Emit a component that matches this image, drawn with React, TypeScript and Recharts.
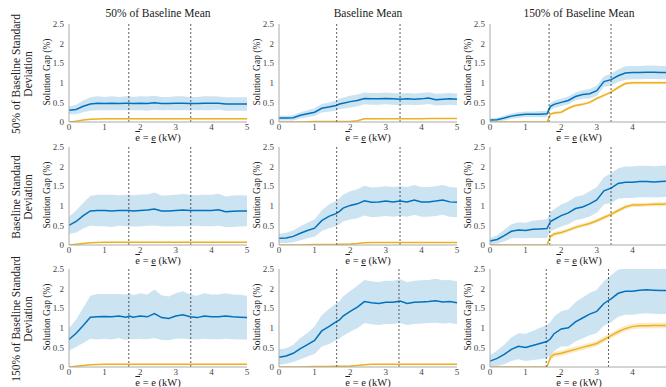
import React from "react";
import {
  ComposedChart,
  Area,
  Line,
  XAxis,
  YAxis,
  ReferenceLine,
} from "recharts";

// shared x grid (kW)
const xs = [0, 0.2, 0.4, 0.6, 0.8, 1, 1.2, 1.4, 1.6, 1.7, 1.8, 2, 2.2, 2.4, 2.6, 2.8, 3, 3.2, 3.4, 3.6, 3.8, 4, 4.2, 4.4, 4.6, 4.8, 5];

const colTitles = ["50% of Baseline Mean", "Baseline Mean", "150% of Baseline Mean"];
const rowTitles = [
  ["50% of Baseline Standard", "Deviation"],
  ["Baseline Standard", "Deviation"],
  ["150% of Baseline Standard", "Deviation"],
];
const yTicks = [0, 0.5, 1, 1.5, 2, 2.5];
const xTicks = [0, 1, 2, 3, 4, 5];
// last column is cut at the page edge, its "5" is not shown
const xTicksLastCol = [0, 1, 2, 3, 4];

// row 1 (50% std)
const blue11 = [0.3, 0.32, 0.4, 0.46, 0.48, 0.47, 0.48, 0.47, 0.48, 0.48, 0.47, 0.48, 0.47, 0.49, 0.47, 0.47, 0.48, 0.48, 0.47, 0.47, 0.48, 0.48, 0.48, 0.46, 0.46, 0.46, 0.46];
const band11 = [0.1, 0.12, 0.15, 0.17, 0.18, 0.17, 0.18, 0.17, 0.18, 0.18, 0.17, 0.18, 0.18, 0.18, 0.17, 0.17, 0.18, 0.18, 0.17, 0.17, 0.18, 0.18, 0.17, 0.17, 0.17, 0.17, 0.17];
const orange11 = [0, 0.02, 0.05, 0.07, 0.075, 0.08, 0.08, 0.08, 0.08, 0.08, 0.08, 0.08, 0.08, 0.08, 0.08, 0.08, 0.08, 0.08, 0.08, 0.08, 0.08, 0.08, 0.08, 0.08, 0.08, 0.08, 0.08];

const blue12 = [0.1, 0.1, 0.11, 0.17, 0.21, 0.25, 0.35, 0.38, 0.42, 0.46, 0.48, 0.52, 0.55, 0.6, 0.59, 0.59, 0.6, 0.59, 0.58, 0.59, 0.58, 0.59, 0.61, 0.57, 0.58, 0.59, 0.58];
const band12 = [0.06, 0.06, 0.07, 0.08, 0.09, 0.1, 0.11, 0.12, 0.13, 0.13, 0.14, 0.15, 0.15, 0.15, 0.15, 0.15, 0.15, 0.15, 0.15, 0.15, 0.15, 0.15, 0.15, 0.15, 0.15, 0.15, 0.15];
const orange12 = [0, 0, 0, 0, 0.005, 0.01, 0.01, 0.01, 0.01, 0.01, 0.01, 0.015, 0.03, 0.08, 0.08, 0.08, 0.085, 0.085, 0.085, 0.085, 0.085, 0.085, 0.09, 0.09, 0.09, 0.09, 0.09];

const blue13 = [0.05, 0.06, 0.1, 0.15, 0.18, 0.2, 0.2, 0.2, 0.21, 0.4, 0.45, 0.5, 0.55, 0.65, 0.7, 0.72, 0.8, 1.03, 1.08, 1.18, 1.25, 1.26, 1.26, 1.27, 1.27, 1.26, 1.26];
const band13 = [0.04, 0.05, 0.06, 0.07, 0.07, 0.07, 0.07, 0.08, 0.08, 0.09, 0.09, 0.09, 0.1, 0.1, 0.11, 0.12, 0.13, 0.14, 0.15, 0.16, 0.17, 0.17, 0.17, 0.17, 0.17, 0.17, 0.17];
const orange13 = [0, 0, 0, 0, 0, 0, 0, 0, 0, 0.2, 0.23, 0.25, 0.35, 0.42, 0.45, 0.5, 0.6, 0.68, 0.76, 0.88, 0.98, 1.0, 1.0, 1.0, 1.0, 1.0, 1.0];

// row 2 (baseline std)
const blue21 = [0.5, 0.6, 0.75, 0.87, 0.88, 0.88, 0.87, 0.88, 0.88, 0.88, 0.87, 0.88, 0.89, 0.92, 0.87, 0.87, 0.88, 0.89, 0.88, 0.88, 0.88, 0.88, 0.9, 0.85, 0.86, 0.87, 0.87];
const band21 = [0.22, 0.28, 0.33, 0.38, 0.4, 0.4, 0.41, 0.39, 0.4, 0.4, 0.4, 0.41, 0.4, 0.42, 0.39, 0.4, 0.4, 0.41, 0.4, 0.39, 0.4, 0.4, 0.41, 0.39, 0.4, 0.4, 0.39];
const orange21 = [0, 0.02, 0.04, 0.06, 0.065, 0.07, 0.07, 0.07, 0.07, 0.07, 0.07, 0.07, 0.07, 0.07, 0.07, 0.07, 0.07, 0.07, 0.07, 0.07, 0.07, 0.07, 0.07, 0.07, 0.07, 0.07, 0.07];

const blue22 = [0.17, 0.18, 0.22, 0.3, 0.37, 0.43, 0.62, 0.73, 0.8, 0.86, 0.94, 1.01, 1.05, 1.13, 1.09, 1.1, 1.12, 1.1, 1.12, 1.1, 1.15, 1.1, 1.1, 1.12, 1.15, 1.1, 1.09];
const band22 = [0.12, 0.13, 0.15, 0.18, 0.2, 0.22, 0.26, 0.3, 0.32, 0.33, 0.34, 0.36, 0.37, 0.38, 0.38, 0.38, 0.38, 0.38, 0.38, 0.38, 0.38, 0.38, 0.38, 0.38, 0.38, 0.38, 0.38];
const orange22 = [0, 0, 0, 0, 0.005, 0.01, 0.01, 0.015, 0.015, 0.02, 0.02, 0.025, 0.04, 0.06, 0.065, 0.065, 0.065, 0.065, 0.065, 0.065, 0.065, 0.065, 0.065, 0.065, 0.065, 0.065, 0.065];

const blue23 = [0.1, 0.14, 0.24, 0.35, 0.38, 0.37, 0.4, 0.41, 0.42, 0.6, 0.65, 0.75, 0.82, 0.93, 0.97, 1.05, 1.15, 1.38, 1.45, 1.57, 1.6, 1.6, 1.62, 1.62, 1.61, 1.62, 1.63];
const band23 = [0.08, 0.11, 0.15, 0.18, 0.2, 0.2, 0.22, 0.23, 0.24, 0.25, 0.26, 0.28, 0.29, 0.3, 0.3, 0.32, 0.33, 0.35, 0.38, 0.39, 0.4, 0.4, 0.4, 0.4, 0.4, 0.4, 0.4];
const orange23 = [0, 0, 0, 0, 0, 0, 0, 0, 0, 0.22, 0.28, 0.32, 0.38, 0.45, 0.5, 0.55, 0.62, 0.7, 0.78, 0.88, 0.97, 1.02, 1.02, 1.03, 1.04, 1.04, 1.05];

// row 3 (150% std)
const blue31 = [0.7, 0.86, 1.06, 1.27, 1.28, 1.29, 1.28, 1.3, 1.27, 1.3, 1.27, 1.3, 1.28, 1.36, 1.26, 1.24, 1.3, 1.33, 1.28, 1.26, 1.3, 1.28, 1.28, 1.3, 1.28, 1.27, 1.26];
const band31 = [0.28, 0.35, 0.45, 0.55, 0.58, 0.57, 0.58, 0.56, 0.58, 0.58, 0.56, 0.58, 0.57, 0.62, 0.57, 0.56, 0.58, 0.6, 0.57, 0.56, 0.58, 0.57, 0.57, 0.58, 0.57, 0.57, 0.56];
const orange31 = [0, 0.02, 0.04, 0.06, 0.065, 0.07, 0.07, 0.07, 0.07, 0.07, 0.07, 0.07, 0.07, 0.07, 0.07, 0.07, 0.07, 0.07, 0.07, 0.07, 0.07, 0.07, 0.07, 0.07, 0.07, 0.07, 0.07];

const blue32 = [0.25, 0.28, 0.35, 0.47, 0.57, 0.68, 0.92, 1.03, 1.15, 1.2, 1.3, 1.42, 1.53, 1.67, 1.64, 1.62, 1.65, 1.65, 1.68, 1.62, 1.65, 1.66, 1.67, 1.69, 1.66, 1.67, 1.64];
const band32 = [0.2, 0.2, 0.22, 0.27, 0.3, 0.35, 0.4, 0.45, 0.47, 0.48, 0.5, 0.52, 0.54, 0.55, 0.55, 0.55, 0.55, 0.55, 0.56, 0.55, 0.55, 0.55, 0.55, 0.56, 0.55, 0.55, 0.55];
const orange32 = [0, 0, 0, 0, 0.005, 0.01, 0.01, 0.015, 0.02, 0.02, 0.02, 0.025, 0.04, 0.06, 0.07, 0.07, 0.07, 0.07, 0.07, 0.07, 0.07, 0.07, 0.07, 0.07, 0.07, 0.07, 0.07];

const blue33 = [0.15, 0.22, 0.32, 0.45, 0.53, 0.5, 0.55, 0.6, 0.65, 0.72, 0.85, 0.97, 1.0, 1.15, 1.25, 1.35, 1.42, 1.62, 1.74, 1.88, 1.93, 1.93, 1.96, 1.97, 1.96, 1.95, 1.95];
const band33 = [0.15, 0.2, 0.25, 0.3, 0.33, 0.35, 0.37, 0.4, 0.42, 0.43, 0.44, 0.45, 0.47, 0.5, 0.52, 0.54, 0.55, 0.57, 0.6, 0.6, 0.6, 0.6, 0.6, 0.6, 0.6, 0.6, 0.6];
const orange33 = [0, 0, 0, 0, 0, 0, 0, 0, 0, 0.25, 0.32, 0.35, 0.4, 0.45, 0.5, 0.55, 0.6, 0.7, 0.8, 0.9, 0.98, 1.03, 1.05, 1.05, 1.06, 1.06, 1.06];

// orange band half-widths per panel (row-major)
const orangeSpread = [0.01, 0.01, 0.035, 0.01, 0.01, 0.05, 0.01, 0.015, 0.07];
// dashed reference lines per panel (row-major)
const vLines = [
  [1.68, 3.42], [1.62, 3.4], [1.66, 3.4],
  [1.68, 3.42], [1.62, 3.4], [1.68, 3.4],
  [1.68, 3.42], [1.62, 3.37], [1.58, 3.33],
];

const blues = [blue11, blue12, blue13, blue21, blue22, blue23, blue31, blue32, blue33];
const bands = [band11, band12, band13, band21, band22, band23, band31, band32, band33];
const oranges = [orange11, orange12, orange13, orange21, orange22, orange23, orange31, orange32, orange33];

const FONT = "'Liberation Serif', 'Times New Roman', serif";
const BLUE = "#0072BD";
const ORANGE = "#EDB120";
const PLOT_W = 178;
const PLOT_H = 98;
const colLeft = [69, 279, 490];
const rowTop = [24, 147, 269];
const Y_AXIS_W = 30;

const buildData = (i: number) =>
  xs.map((x, k) => {
    const b = blues[i][k];
    const hw = bands[i][k];
    const o = oranges[i][k];
    const s = orangeSpread[i];
    return {
      x,
      blue: b,
      blueBand: [Math.max(0, b - hw), b + hw],
      orange: o,
      orangeBand: o > 0 ? [Math.max(0, o - s), o + s] : [0, 0],
    };
  });

const tickStyle = { fontSize: 9, fill: "#444", fontFamily: FONT };

const Panel = ({ i }: { i: number }) => {
  const r = Math.floor(i / 3);
  const c = i % 3;
  const data = buildData(i);
  return (
    <div
      style={{
        position: "absolute",
        left: colLeft[c] - Y_AXIS_W,
        top: rowTop[r] - 5,
      }}
    >
      <ComposedChart
        width={Y_AXIS_W + PLOT_W + 5}
        height={PLOT_H + 25}
        data={data}
        margin={{ top: 5, right: 5, bottom: 0, left: 0 }}
      >
        <XAxis
          dataKey="x"
          type="number"
          domain={[0, 5]}
          ticks={c === 2 ? xTicksLastCol : xTicks}
          tick={tickStyle}
          tickLine={false}
          tickSize={0}
          stroke="#aaa"
          height={20}
          interval={0}
        />
        <XAxis xAxisId="top" orientation="top" dataKey="x" type="number" domain={[0, 5]} tick={false} tickLine={false} height={0} stroke="#ccc" />
        <YAxis
          type="number"
          domain={[0, 2.5]}
          ticks={yTicks}
          tick={tickStyle}
          tickLine={false}
          tickSize={3}
          stroke="#aaa"
          width={Y_AXIS_W}
          allowDataOverflow
          interval={0}
        />
        <YAxis yAxisId="right" orientation="right" domain={[0, 2.5]} tick={false} tickLine={false} width={0} stroke="#ccc" />
        <Area
          dataKey="blueBand"
          type="linear"
          stroke="none"
          fill={BLUE}
          fillOpacity={0.2}
          isAnimationActive={false}
        />
        <Area
          dataKey="orangeBand"
          type="linear"
          stroke="none"
          fill={ORANGE}
          fillOpacity={0.25}
          isAnimationActive={false}
        />
        <Line dataKey="orange" type="linear" stroke={ORANGE} strokeWidth={1.5} dot={false} isAnimationActive={false} />
        <Line dataKey="blue" type="linear" stroke={BLUE} strokeWidth={1.5} dot={false} isAnimationActive={false} />
        {vLines[i].map((v) => (
          <ReferenceLine key={v} x={v} stroke="#333" strokeWidth={0.8} strokeDasharray="2 2" />
        ))}
      </ComposedChart>
    </div>
  );
};

const rotated = (cx: number, cy: number, size: number): React.CSSProperties => ({
  position: "absolute",
  left: cx,
  top: cy,
  transform: "translate(-50%, -50%) rotate(-90deg)",
  whiteSpace: "nowrap",
  textAlign: "center",
  fontSize: size,
  fontFamily: FONT,
  color: "#222",
});

export default function App() {
  const idx = [0, 1, 2, 3, 4, 5, 6, 7, 8];
  return (
    <div
      style={{
        position: "absolute",
        left: 0,
        top: 0,
        width: 666,
        height: 387,
        overflow: "hidden",
        background: "#fff",
        fontFamily: FONT,
      }}
    >
      {idx.map((i) => (
        <Panel key={i} i={i} />
      ))}
      {colTitles.map((t, c) => (
        <div
          key={t}
          style={{
            position: "absolute",
            left: colLeft[c] + PLOT_W / 2,
            top: 13,
            transform: "translate(-50%, -50%)",
            whiteSpace: "nowrap",
            fontSize: 11.5,
            color: "#222",
          }}
        >
          {t}
        </div>
      ))}
      {rowTitles.map((lines, r) => (
        <div key={r} style={{ ...rotated(22, rowTop[r] + PLOT_H / 2 + 1, 11.5), lineHeight: "12px" }}>
          {lines[0]}
          <br />
          {lines[1]}
        </div>
      ))}
      {idx.map((i) => {
        const r = Math.floor(i / 3);
        const c = i % 3;
        return (
          <React.Fragment key={i}>
            <div style={rotated(colLeft[c] - 22, rowTop[r] + PLOT_H / 2 - 1, 9.5)}>Solution Gap (%)</div>
            <div
              style={{
                position: "absolute",
                left: colLeft[c] + PLOT_W / 2,
                top: rowTop[r] + PLOT_H + 16,
                transform: "translate(-50%, -50%)",
                whiteSpace: "nowrap",
                fontSize: 10.5,
                lineHeight: "8px",
                color: "#222",
              }}
            >
              <span style={{ textDecoration: "overline" }}>e</span> ={" "}
              <span style={{ textDecoration: "underline", textUnderlineOffset: "1px" }}>e</span> (kW)
            </div>
          </React.Fragment>
        );
      })}
    </div>
  );
}
